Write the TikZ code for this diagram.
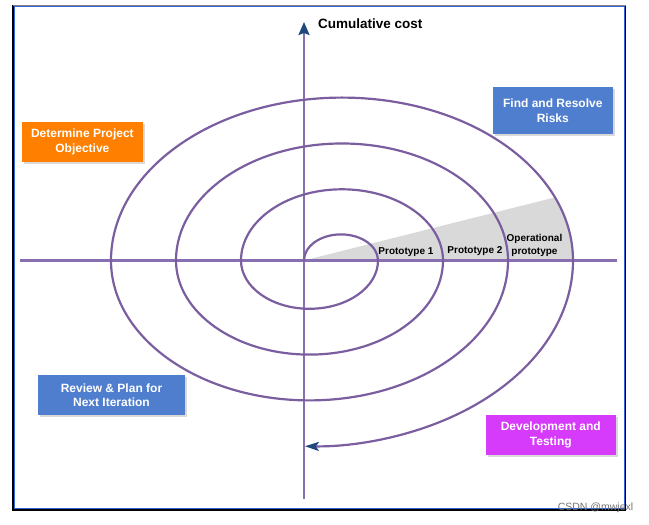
\documentclass[tikz,border=0pt]{standalone}
\usepackage{fontspec}
\setmainfont{Liberation Sans}
\usetikzlibrary{arrows.meta,shadows}
\definecolor{spir}{RGB}{122,94,160}
\definecolor{axc}{RGB}{136,112,176}
\definecolor{arrb}{RGB}{31,73,125}
\definecolor{wedgegray}{RGB}{217,217,217}
\definecolor{orangebox}{RGB}{255,128,0}
\definecolor{bluebox}{RGB}{79,126,206}
\definecolor{magbox}{RGB}{214,58,250}
\definecolor{frameblue}{RGB}{50,100,220}
\begin{document}
\begin{tikzpicture}[x=1pt,y=1pt,
  spiral/.style={draw=spir, line width=2.2pt},
  axisline/.style={draw=axc, line width=2.2pt},
  box/.style={rectangle, text=white, font=\fontsize{12}{14.5}\selectfont\bfseries,
    align=center, inner sep=0pt, minimum height=40pt,
    drop shadow={shadow xshift=2pt, shadow yshift=-2pt, opacity=0.3}},
  proto/.style={font=\fontsize{10}{13.5}\selectfont\bfseries, align=center, inner sep=0pt}
]
\useasboundingbox (0,0) rectangle (649,525);
% frame
\draw[black, line width=1.6pt] (13,519.5) -- (13,15) -- (625.5,15) -- (625.5,519.5);
\draw[gray, line width=0.8pt] (13,519.5) -- (625.5,519.5);
\draw[frameblue, line width=1pt] (14.5,16.5) rectangle (624,518.3);
% coordinates
\coordinate (O) at (304,264.5);
\coordinate (ytop) at (304,503);
\coordinate (ybot) at (304,26);
\coordinate (xl) at (20,264.5);
\coordinate (xr) at (617,264.5);
% wedge
\fill[wedgegray] (O) -- ([shift={(342,264.5)}]22.8:231 and 162.9)
  arc[start angle=22.8, end angle=0, x radius=231, y radius=162.9] -- cycle;
% axes
\draw[axisline] (xl) -- (xr);
\draw[axisline, -{Stealth[length=13pt, width=11pt, inset=2pt, color=arrb]}] (ybot) -- (ytop);
% spiral
\draw[spiral, -{Stealth[length=14pt, width=9pt, inset=3pt, color=arrb]}] (O)
  arc[start angle=180, end angle=0,   x radius=37,    y radius=26.1]
  arc[start angle=0,   end angle=-180, x radius=68.5, y radius=48.3]
  arc[start angle=180, end angle=0,   x radius=101,   y radius=71.2]
  arc[start angle=0,   end angle=-180, x radius=133.5, y radius=94.1]
  arc[start angle=180, end angle=0,   x radius=166,   y radius=117.0]
  arc[start angle=0,   end angle=-180, x radius=198.5, y radius=139.9]
  arc[start angle=180, end angle=0,   x radius=231,   y radius=162.9]
  arc[start angle=0,   end angle=-91,  x radius=263.5, y radius=185.8];
% labels
\node[anchor=west, font=\fontsize{13.5}{16}\selectfont\bfseries, inner sep=0pt] (ylabel) at (318,501) {Cumulative cost};
\node[proto] (p1) at (406,273) {Prototype 1};
\node[proto] (p2) at (475,274) {Prototype 2};
\node[proto] (op) at (534.5,279.5) {Operational\\prototype};
% boxes
\node[box, fill=orangebox, minimum width=121pt] (objective) at (82.4,383.3) {Determine Project\\Objective};
\node[box, fill=bluebox, minimum width=120pt, minimum height=47pt] (risks) at (552.8,414.5) {Find and Resolve\\Risks};
\node[box, fill=bluebox, minimum width=147pt] (review) at (111.5,130) {Review \& Plan for\\Next Iteration};
\node[box, fill=magbox, minimum width=130pt] (dev) at (550.8,90) {Development and\\Testing};
% watermark
\node[text=black!55, font=\fontsize{10.5}{12}\selectfont, inner sep=0pt] (wm) at (595.5,17) {CSDN @mwjexl};
\end{tikzpicture}
\end{document}
